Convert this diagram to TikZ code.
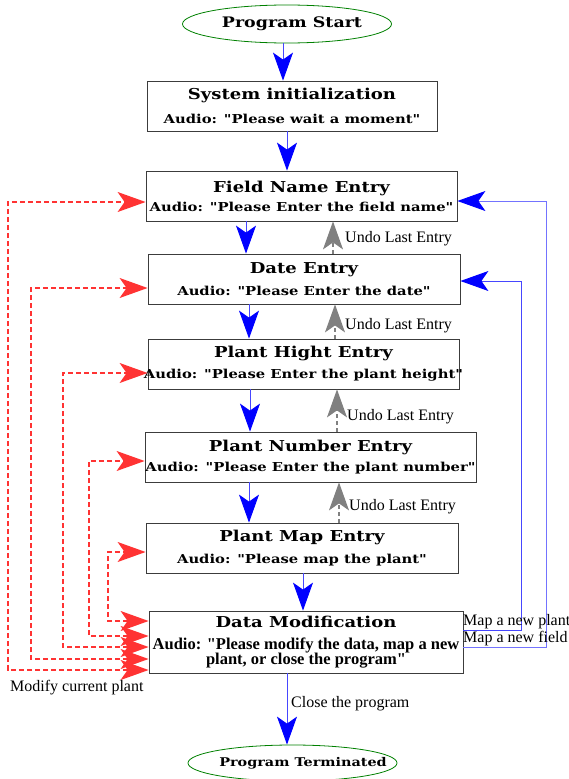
\documentclass[tikz,border=0pt]{standalone}
\usepackage{fontspec}
\usetikzlibrary{arrows.meta,shapes.geometric}
\newfontfamily\tfont[FakeStretch=1.2]{DejaVu Serif}
\newfontfamily\lfont{Liberation Serif}
\definecolor{ablue}{RGB}{0,0,255}
\definecolor{lblue}{RGB}{70,70,255}
\definecolor{ared}{RGB}{255,51,51}
\definecolor{agray}{RGB}{128,128,128}
\definecolor{agreen}{RGB}{0,128,0}
\definecolor{aborder}{RGB}{60,60,60}
\newcommand{\afnt}{\fontsize{12.3}{21}\selectfont}
\newcommand{\mfnt}{\lfont\bfseries\fontsize{16.5}{21}\selectfont}
\newcommand{\ttl}[1]{\makebox[0pt]{#1}}
\newcommand{\aud}[1]{\makebox[0pt]{\afnt #1}}
\begin{document}
\begin{tikzpicture}[x=1pt,y=-1pt,
  stepbox/.style={draw=aborder,line width=0.8pt,inner sep=0pt,align=center,
    font=\tfont\bfseries\fontsize{15}{21}\selectfont},
  termbox/.style={ellipse,draw=agreen,line width=0.8pt,inner sep=0pt,
    font=\tfont\bfseries\fontsize{14.5}{16}\selectfont},
  arrowtip/.style={-{Stealth[length=28pt,width=20pt,inset=7pt,color=#1]}},
  bluearr/.style={draw=lblue,line width=0.9pt,arrowtip=ablue},
  grayarr/.style={draw=agray,line width=1.2pt,dash pattern=on 4pt off 3pt,arrowtip=agray},
  redarr/.style={draw=ared,line width=1.3pt,dash pattern=on 5pt off 3pt,
    {Stealth[length=28pt,width=20pt,inset=7pt,color=ared]}-{Stealth[length=28pt,width=20pt,inset=7pt,color=ared]}},
  lbl/.style={font=\lfont\fontsize{16}{18}\selectfont,inner sep=0pt,anchor=west}
]
\useasboundingbox (0,0) rectangle (569,779);

% nodes
\node[termbox,minimum width=209pt,minimum height=38pt] (start) at (287,24)
  {\makebox[0pt]{\hspace*{10pt}Program Start}};
\node[stepbox,minimum width=290pt,minimum height=50pt] (sys) at (292,106)
  {\ttl{System initialization}\\[3pt]\aud{Audio: "Please wait a moment"}};
\node[stepbox,minimum width=311pt,minimum height=50pt] (field) at (301.5,196)
  {\ttl{Field Name Entry}\\[-2pt]\aud{Audio: "Please Enter the field name"}};
\node[stepbox,minimum width=312pt,minimum height=50pt] (date) at (304,279)
  {\ttl{Date Entry}\\[1pt]\aud{Audio: "Please Enter the date"}};
\node[stepbox,minimum width=311pt,minimum height=50pt] (hight) at (303.5,364)
  {\ttl{Plant Hight Entry}\\\aud{Audio: "Please Enter the plant height"}};
\node[stepbox,minimum width=331pt,minimum height=50pt] (number) at (310.5,457)
  {\ttl{Plant Number Entry}\\[-1pt]\aud{Audio: "Please Enter the plant number"}};
\node[stepbox,minimum width=312pt,minimum height=50pt] (map) at (302,548)
  {\ttl{Plant Map Entry}\\[1pt]\aud{Audio: "Please map the plant"}};
\node[stepbox,minimum width=314pt,minimum height=62pt] (mod) at (306,642)
  {\ttl{Data Modification}\\[1pt]\makebox[0pt]{\mfnt Audio: "Please modify the data, map a new}\\[-6pt]\makebox[0pt]{\mfnt plant, or close the program"}};
\node[termbox,font=\tfont\bfseries\fontsize{12}{16}\selectfont,minimum width=209pt,minimum height=36pt] (term) at (292.5,763)
  {\makebox[0pt]{\hspace*{21pt}Program Terminated}};

% column coordinates
\coordinate (x0) at (283,0);
\coordinate (x1) at (287,0);
\coordinate (x2) at (246,0);
\coordinate (x3) at (249,0);
\coordinate (x4) at (250,0);
\coordinate (x5) at (249,0);
\coordinate (x6) at (303,0);
\coordinate (x7) at (287,0);
\coordinate (u1) at (333,0);
\coordinate (u2) at (335,0);
\coordinate (u3) at (337,0);
\coordinate (u4) at (339,0);

% main flow
\draw[bluearr] (start.south -| x0) -- (sys.north -| x0);
\draw[bluearr] (sys.south -| x1) -- (field.north -| x1);
\draw[bluearr] (field.south -| x2) -- (date.north -| x2);
\draw[bluearr] (date.south -| x3) -- (hight.north -| x3);
\draw[bluearr] (hight.south -| x4) -- (number.north -| x4);
\draw[bluearr] (number.south -| x5) -- (map.north -| x5);
\draw[bluearr] (map.south -| x6) -- (mod.north -| x6);
\draw[bluearr] (mod.south -| x7) -- (term.north -| x7);
\node[lbl] (cp) at (291,704) {Close the program};

% undo
\draw[grayarr] (date.north -| u1) -- (field.south -| u1);
\draw[grayarr] (hight.north -| u2) -- (date.south -| u2);
\draw[grayarr] (number.north -| u3) -- (hight.south -| u3);
\draw[grayarr] (map.north -| u4) -- (number.south -| u4);
\node[lbl] (ul1) at (345,239) {Undo Last Entry};
\node[lbl] (ul2) at (345,326) {Undo Last Entry};
\node[lbl] (ul3) at (347,417) {Undo Last Entry};
\node[lbl] (ul4) at (349,507) {Undo Last Entry};

% right loops
\coordinate (b1) at (521,630);
\coordinate (b1t) at (521,281);
\coordinate (b2) at (546,647);
\coordinate (b2t) at (546,201);
\draw[bluearr] (mod.east |- b1) -- (b1) |- (date.east |- b1t);
\draw[bluearr,draw=ablue!55] (mod.east |- b2) -- (b2) |- (field.east |- b2t);
\node[lbl] (mp) at (463,622) {Map a new plant};
\node[lbl] (mf) at (463,639) {Map a new field};

% left loops
\coordinate (r1) at (108,621); \coordinate (e1) at (0,552);
\coordinate (r2) at (89,636);  \coordinate (e2) at (0,461);
\coordinate (r3) at (63,647);  \coordinate (e3) at (0,373);
\coordinate (r4) at (31,659);  \coordinate (e4) at (0,288);
\coordinate (r5) at (8,670);   \coordinate (e5) at (0,202);
\draw[redarr] (mod.west |- r1) -- (r1) |- (map.west |- e1);
\draw[redarr] (mod.west |- r2) -- (r2) |- (number.west |- e2);
\draw[redarr] (mod.west |- r3) -- (r3) |- (hight.west |- e3);
\draw[redarr] (mod.west |- r4) -- (r4) |- (date.west |- e4);
\draw[redarr] (mod.west |- r5) -- (r5) |- (field.west |- e5);
\node[lbl] (mc) at (10,688) {Modify current plant};
\end{tikzpicture}
\end{document}
